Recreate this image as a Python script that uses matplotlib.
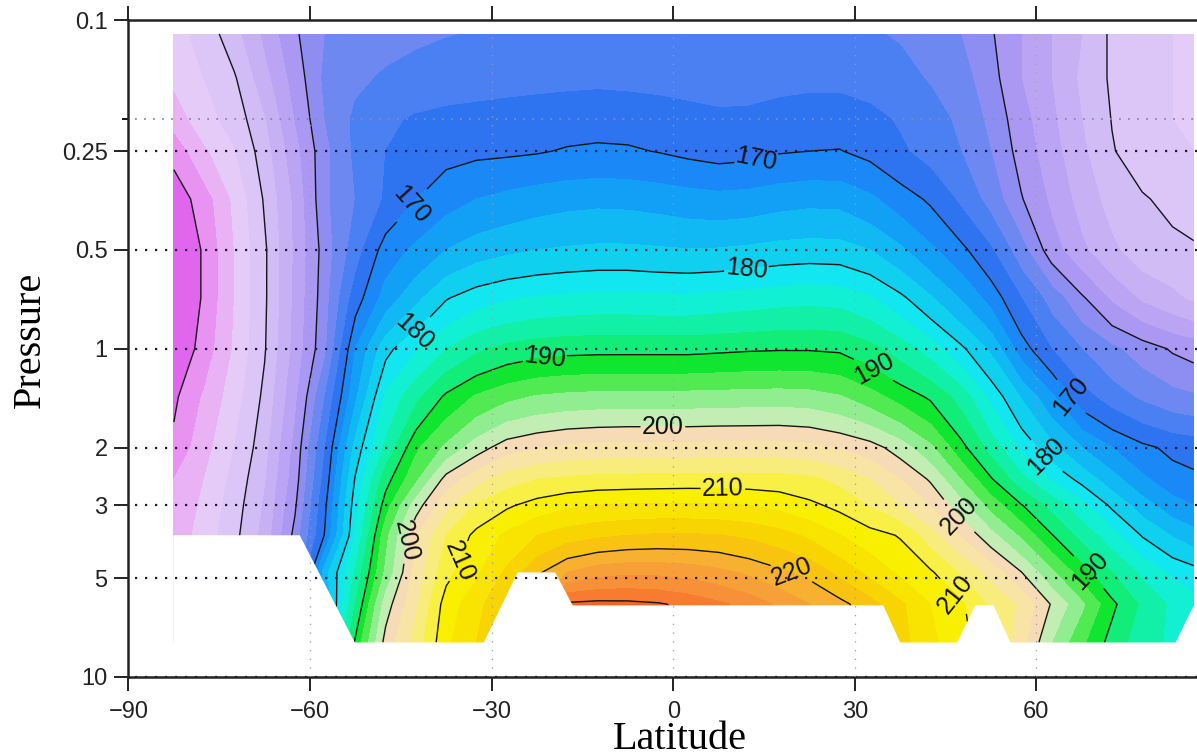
import numpy as np
import matplotlib
matplotlib.use("Agg")
import matplotlib.pyplot as plt
from matplotlib.colors import ListedColormap, BoundaryNorm
from matplotlib.ticker import NullFormatter, NullLocator

plt.rcParams['font.family'] = ['Liberation Sans', 'DejaVu Sans']

# Grid: latitude (deg) and pressure levels
lats = [-82.5, -77.5, -72.5, -67.5, -62.5, -57.5, -52.5, -47.5, -42.5, -37.5,
        -32.5, -27.5, -22.5, -17.5, -12.5, -7.5, -2.5, 2.5, 7.5, 12.5,
        17.5, 22.5, 27.5, 32.5, 37.5, 42.5, 47.5, 52.5, 57.5, 62.5,
        67.5, 72.5, 77.5, 82.5, 86.0]
pressures = [0.11, 0.15, 0.2, 0.25, 0.35, 0.5, 0.7, 1.0, 1.4, 2.0, 2.5, 3.0,
             3.7, 4.8, 6.0, 7.85]

# Zonal-mean temperature (K), one row per pressure level
temp = [
    [146.5, 148.5, 151.5, 155.5, 159.6, 162.5, 163.5, 164.2, 164.6, 164.9, 165.1, 165.3, 165.4, 165.5, 165.6, 165.6, 165.5, 165.4, 165.3, 165.3, 165.4, 165.5, 165.5, 165.2, 164.8, 164.0, 162.5, 160.3, 157.5, 155.0, 152.5, 149.5, 148.0, 147.5, 147.5],
    [145.5, 147.5, 149.7, 154.0, 158.5, 163.0, 164.5, 165.3, 165.8, 166.2, 166.4, 166.6, 166.8, 166.9, 167.0, 166.9, 166.8, 166.6, 166.4, 166.4, 166.7, 166.9, 166.9, 166.5, 165.7, 164.8, 163.5, 161.0, 157.5, 155.0, 152.0, 149.6, 148.0, 147.5, 147.0],
    [143.5, 146.5, 148.5, 152.2, 157.5, 162.5, 165.5, 167.0, 167.8, 168.2, 168.4, 168.6, 168.7, 168.9, 169.0, 168.9, 168.6, 168.3, 168.0, 168.1, 168.5, 168.7, 168.7, 168.2, 167.2, 166.0, 164.5, 161.8, 158.5, 155.5, 152.5, 149.9, 148.0, 147.5, 147.0],
    [140.8, 144.5, 147.3, 151.3, 156.5, 161.8, 165.5, 167.5, 168.6, 169.2, 169.5, 169.6, 169.8, 170.2, 170.4, 170.3, 169.9, 169.4, 169.0, 169.2, 169.8, 170.0, 170.1, 169.3, 167.9, 166.5, 165.0, 162.5, 159.0, 156.0, 153.0, 150.2, 148.5, 148.0, 147.5],
    [138.5, 141.2, 145.5, 150.3, 155.5, 162.0, 165.0, 167.8, 170.0, 171.5, 172.5, 173.2, 173.8, 174.2, 174.4, 174.3, 174.0, 173.6, 173.3, 173.5, 174.0, 174.3, 174.2, 173.0, 171.2, 169.6, 167.0, 164.0, 160.2, 157.0, 154.0, 151.5, 150.3, 149.2, 148.5],
    [137.5, 140.3, 145.0, 149.6, 155.3, 161.2, 166.3, 171.2, 173.0, 175.0, 176.3, 177.0, 177.5, 177.8, 178.0, 178.0, 177.8, 177.6, 177.7, 178.0, 178.4, 178.6, 178.5, 177.5, 175.5, 173.0, 170.7, 167.8, 163.5, 158.7, 155.5, 153.0, 151.0, 150.8, 150.4],
    [137.5, 140.3, 145.0, 149.6, 155.5, 161.5, 168.8, 173.5, 176.8, 179.8, 181.3, 182.2, 182.7, 183.0, 183.2, 183.2, 183.0, 183.0, 183.3, 183.6, 184.0, 184.2, 184.0, 182.8, 180.6, 177.8, 174.8, 171.5, 167.5, 164.0, 160.4, 157.0, 154.5, 153.0, 152.0],
    [137.8, 141.0, 145.3, 149.8, 155.8, 162.0, 172.5, 179.2, 182.2, 185.0, 187.0, 188.2, 188.9, 189.2, 189.3, 189.3, 189.3, 189.3, 189.5, 189.7, 189.8, 189.8, 189.6, 188.3, 186.3, 183.8, 180.6, 177.0, 171.2, 167.5, 165.0, 163.0, 161.3, 159.7, 159.0],
    [139.5, 142.8, 146.3, 150.6, 156.8, 165.0, 174.5, 183.0, 186.8, 190.5, 192.8, 194.3, 195.2, 195.6, 195.8, 195.9, 195.9, 195.9, 196.0, 196.1, 196.2, 196.0, 195.2, 193.5, 191.5, 189.6, 186.5, 181.8, 177.3, 173.0, 168.5, 166.2, 164.5, 163.3, 162.8],
    [140.6, 144.0, 147.5, 151.5, 158.2, 167.5, 178.5, 185.5, 192.0, 195.5, 198.8, 201.3, 202.3, 203.0, 203.3, 203.4, 203.4, 203.4, 203.5, 203.5, 203.5, 203.2, 202.3, 201.1, 198.8, 195.5, 190.9, 186.5, 182.0, 178.3, 175.0, 172.5, 170.6, 169.4, 169.0],
    [142.5, 145.0, 148.3, 152.2, 158.8, 168.5, 180.3, 189.0, 194.4, 201.0, 204.0, 206.3, 207.5, 208.0, 208.3, 208.4, 208.5, 208.6, 208.6, 208.6, 208.5, 208.0, 206.8, 205.0, 202.5, 199.7, 195.0, 190.3, 185.8, 182.2, 179.2, 176.0, 173.0, 171.0, 170.5],
    [143.0, 145.5, 148.8, 152.8, 159.6, 169.6, 181.5, 191.3, 198.8, 204.2, 207.8, 209.6, 211.0, 212.0, 212.6, 212.8, 212.9, 212.9, 212.8, 212.5, 211.8, 210.6, 209.3, 207.3, 205.0, 202.3, 198.5, 194.0, 190.2, 186.7, 183.3, 179.5, 176.2, 173.5, 172.5],
    [143.5, 146.0, 149.3, 153.3, 160.8, 170.3, 182.5, 194.2, 202.3, 207.5, 210.7, 213.0, 215.0, 216.3, 217.0, 217.5, 217.8, 217.8, 217.6, 217.0, 216.0, 214.5, 212.6, 211.0, 209.8, 206.0, 202.3, 198.3, 194.5, 190.2, 186.6, 183.5, 179.8, 177.3, 176.0],
    [144.0, 146.5, 150.0, 154.0, 162.0, 176.5, 185.5, 195.5, 203.5, 209.2, 212.0, 215.5, 219.5, 222.5, 224.0, 224.5, 224.4, 224.0, 223.2, 222.0, 220.6, 219.3, 216.8, 214.3, 212.0, 210.4, 207.2, 204.0, 200.1, 195.5, 191.2, 187.5, 184.5, 182.0, 181.0],
    [144.5, 147.0, 150.5, 155.0, 164.0, 175.5, 187.5, 198.8, 204.5, 211.2, 214.0, 218.0, 222.0, 230.5, 230.8, 230.7, 230.3, 229.3, 228.0, 226.5, 224.5, 222.5, 220.8, 218.5, 215.5, 212.5, 210.5, 207.0, 204.5, 199.8, 195.5, 190.6, 187.0, 184.5, 183.5],
    [145.0, 147.5, 151.0, 156.0, 166.0, 178.0, 190.5, 201.0, 206.0, 212.0, 215.0, 219.0, 224.0, 231.0, 232.0, 232.0, 231.5, 230.5, 229.0, 227.5, 225.5, 223.5, 221.5, 219.0, 216.0, 213.0, 211.0, 208.0, 203.5, 197.5, 193.0, 189.0, 186.0, 184.5, 184.0],
]

# Outline of the surface (no data below it)
topo_lat = [-82.6, -61.7, -52.6, -31.3, -25.7, -19.5, -16.6, 34.7, 37.5, 46.9,
            49.9, 52.9, 55.7, 83.0, 85.9, 86.5, 86.5, -82.6]
topo_p = [3.7, 3.7, 7.85, 7.85, 4.8, 4.8, 6.05, 6.05, 7.85, 7.85,
          6.05, 6.05, 7.85, 7.85, 6.1, 6.1, 10.5, 10.5]

# Contour label anchors (lat, pressure)
label_lat = [-44.1, 13.9, 65.6, -43.0, 12.2, 61.4, -21.2, 33.7, 68.9,
             -1.7, 46.9, -44.6, 8.2, -35.7, 47.4, 19.3]
label_p = [0.352, 0.272, 1.406, 0.878, 0.597, 2.14, 1.07, 1.107, 4.73,
           1.71, 3.26, 3.84, 2.70, 4.41, 5.45, 5.01]

x_ticks = [-90, -60, -30, 0, 30, 60]
y_ticks = [0.1, 0.25, 0.5, 1, 2, 3, 5, 10]
y_ticklabels = ['0.1', '0.25', '0.5', '1', '2', '3', '5', '10']

band_colors = [
    '#d64ce6', '#e066ee', '#e892f2', '#e8b2f4', '#e4cbf8', '#dcc6f8',
    '#d2bcf6', '#c8b0f4', '#bca4f4', '#aa98f2', '#8e8ef2', '#6e88f2',
    '#4a80f2', '#2e74f0', '#1a88f6', '#12a0f6', '#10b8f4', '#10d0f0',
    '#12e6f0', '#12f0d4', '#12f0a8', '#12ec78', '#10e630', '#52ea52',
    '#90ee90', '#c2eeb4', '#f6dcb6', '#f8e4a4', '#f8ec7c', '#f8f044',
    '#f8f000', '#f8e400', '#f8d400', '#f8c410', '#f8b030', '#f8a038',
    '#f89038', '#f87c30', '#f06428', '#e85020']
fill_levels = np.arange(135.0, 235.01, 2.5)
plain_levels = [140, 150, 160, 230]
labelled = [170, 180, 190, 200, 210, 220]

LAT, P = np.meshgrid(lats, pressures)
T = np.array(temp)

fig = plt.figure(figsize=(11.97, 7.56), dpi=100)
ax = fig.add_axes([0.1073, 0.1045, 0.9102, 0.8684])
ax.set_yscale('log')

cmap = ListedColormap(band_colors)
norm = BoundaryNorm(fill_levels, cmap.N)
ax.contourf(LAT, P, T, levels=fill_levels, cmap=cmap, norm=norm, zorder=1)
ax.contour(LAT, P, T, levels=plain_levels, colors='#151515',
           linewidths=1.0, zorder=2)
cs = ax.contour(LAT, P, T, levels=labelled, colors='#151515',
                linewidths=1.0, zorder=2)
ax.clabel(cs, manual=list(zip(label_lat, label_p)),
          fmt='%d', fontsize=18, inline=True, inline_spacing=3,
          colors='#111111')

ax.fill(topo_lat, topo_p, color='white', zorder=2.5, lw=0)

# Dotted reference lines
for p in [0.25, 0.5, 1, 2, 3, 5, 10]:
    ax.axhline(p, xmin=0.006, color='#1c1c34', lw=1.6,
               ls=(0, (1, 3.5)), zorder=4)
ax.axhline(0.2, xmin=0.006, color='#8a8aa4', lw=1.3, ls=(0, (1, 4)), zorder=4)
for lat in [-60, -30, 0, 30, 60]:
    ax.axvline(lat, ymax=0.986, color='#9a9ab4', lw=0.9,
               ls=(0, (1, 6)), zorder=4)

ax.set_xlim(-90, 90)
ax.set_ylim(10, 0.1)
ax.set_xticks(x_ticks)
ax.set_xticklabels([f'{v}'.replace('-', '\u2212') for v in x_ticks])
ax.set_yticks(y_ticks)
ax.set_yticklabels(y_ticklabels)
ax.set_yticks([0.2], minor=True)
ax.yaxis.set_minor_formatter(NullFormatter())
ax.xaxis.set_minor_locator(NullLocator())

ax.tick_params(axis='both', which='major', direction='out', length=10,
               width=1.4, labelsize=17, colors='#222222')
ax.tick_params(axis='x', which='major', top=True, labeltop=False, pad=7)
ax.tick_params(axis='y', which='major', pad=5)
ax.tick_params(axis='y', which='minor', direction='out', length=4, width=1.3)
for side in ['left', 'bottom', 'top', 'right']:
    ax.spines[side].set_linewidth(1.8)
    ax.spines[side].set_color('#222222')

fig.text(0.568, 0.009, 'Latitude', ha='center', va='baseline',
         fontsize=29, family='Liberation Serif')
fig.text(0.025, 0.55, 'Pressure', ha='center', va='center', rotation=90,
         fontsize=29, family='Liberation Serif')

fig.savefig('out.png', dpi=100)
